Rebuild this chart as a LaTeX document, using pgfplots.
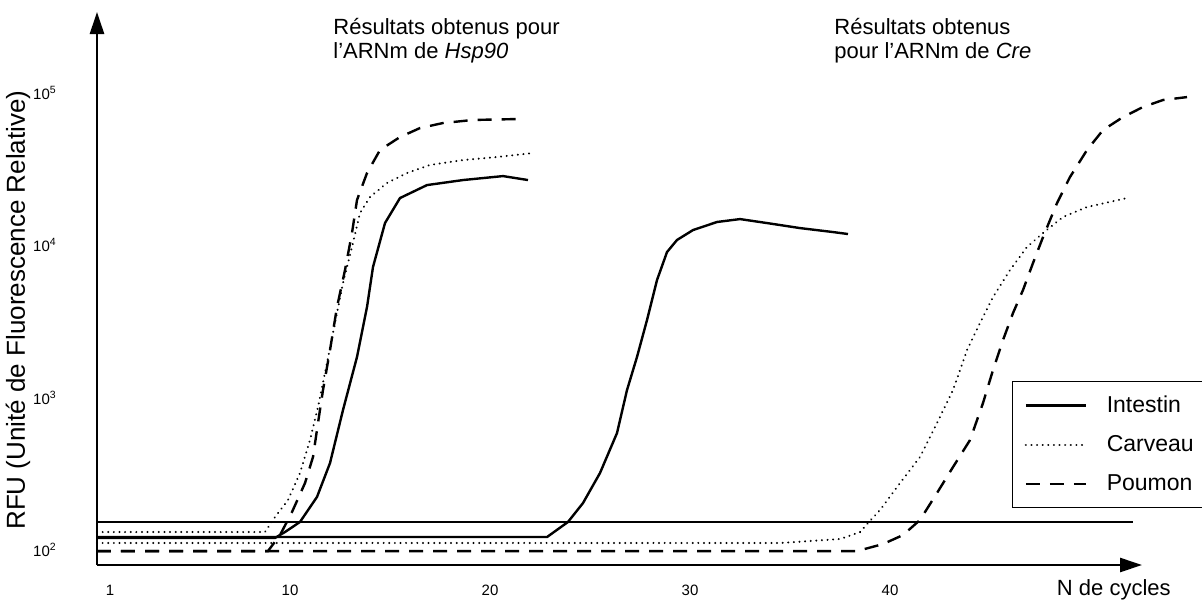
\documentclass[border=0pt]{standalone}
\usepackage{fontspec}
\setmainfont{Liberation Sans}
\usepackage{pgfplots}
\pgfplotsset{compat=1.18}
\usetikzlibrary{arrows.meta}

\begin{document}
\begin{tikzpicture}
\begin{axis}[
  scale only axis, width=522.5pt, height=276.5pt,
  xmin=0.35, xmax=52.6, ymin=1.9016, ymax=5.528,
  axis lines=left,
  axis line style={line width=1.3pt, -{Triangle[length=11pt,width=7pt]}},
  clip=false,
  xtick={1,10,20,30,40}, ytick={2,3,4,5},
  yticklabels={10\textsuperscript{2},10\textsuperscript{3},10\textsuperscript{4},10\textsuperscript{5}},
  major tick length=0pt,
  /pgf/number format/assume math mode=true,
  tick label style={font=\fontsize{7.5}{8}\selectfont},
  xticklabel style={anchor=center, yshift=-12.5pt},
  yticklabel style={anchor=center, xshift=-26pt},
  xlabel={N de cycles},
  ylabel={RFU (Unité de Fluorescence Relative)},
  xlabel style={at={(axis description cs:0.973,-0.045)}, anchor=center, font=\fontsize{11}{12}\selectfont},
  ylabel style={at={(axis description cs:-0.0756,0.461)}, anchor=center, font=\fontsize{13}{14}\selectfont},
  legend style={at={(axis cs:46.1,3.108)}, anchor=north west, draw=black, line width=0.6pt,
    font=\fontsize{11.5}{12}\selectfont, row sep=6pt, column sep=8pt, inner xsep=6pt, inner ysep=5pt,
    cells={anchor=west}},
  legend image code/.code={\draw[#1] (0cm,0cm) -- (1.05cm,0cm);},
  sol/.style={black, line width=1.2pt},
  dot/.style={black, line width=1.1pt, line cap=round, dash pattern=on 0.01pt off 2.8pt},
  dsh/.style={black, line width=1.2pt, dash pattern=on 7pt off 5pt},
]
% Hsp90 - Intestin
\addplot[sol] coordinates {
(0.35,2.079) (9.25,2.079) (9.75,2.118) (10.5,2.184) (11.35,2.348) (12.0,2.570)
(12.65,2.918) (13.35,3.266) (13.85,3.593) (14.15,3.856) (14.75,4.144) (15.5,4.308)
(16.85,4.393) (18.65,4.426) (20.65,4.452) (21.9,4.426)};
\addlegendentry{Intestin\hspace{14pt}}
% Hsp90 - Carveau
\addplot[dot] coordinates {
(0.35,2.118) (8.75,2.118) (9.25,2.216) (9.9,2.328) (10.5,2.505) (11.0,2.721)
(11.4,2.938) (11.85,3.226) (12.25,3.489) (12.65,3.751) (13.1,3.987) (13.5,4.210)
(14.0,4.315) (14.85,4.407) (15.85,4.472) (17.0,4.525) (18.65,4.557) (20.35,4.577) (22.15,4.603)};
\addlegendentry{Carveau}
% Hsp90 - Poumon
\addplot[dsh] coordinates {
(0.35,1.993) (8.9,1.993) (9.5,2.098) (10.1,2.249) (10.75,2.439) (11.15,2.610)
(11.4,2.833) (11.65,3.049) (12.0,3.311) (12.35,3.593) (12.75,3.836) (13.1,4.079)
(13.35,4.295) (13.85,4.472) (14.5,4.623) (15.5,4.708) (16.5,4.767) (17.65,4.800)
(19.15,4.820) (21.35,4.826)};
\addlegendentry{Poumon}
% Cre - Intestin
\addplot[sol, forget plot] coordinates {
(0.35,2.085) (22.85,2.085) (23.9,2.184) (24.65,2.308) (25.5,2.505) (26.35,2.767)
(26.85,3.049) (27.35,3.266) (27.85,3.508) (28.35,3.770) (28.85,3.954) (29.35,4.033)
(30.15,4.098) (31.35,4.151) (32.5,4.170) (33.85,4.144) (35.5,4.111) (37.15,4.085) (37.9,4.072)};
% Cre - Carveau
\addplot[dot, forget plot] coordinates {
(0.35,2.046) (34.5,2.046) (37.5,2.072) (38.5,2.118) (38.9,2.177) (39.5,2.262)
(40.5,2.439) (41.5,2.610) (42.35,2.833) (43.15,3.049) (43.85,3.311) (44.5,3.489)
(45.15,3.659) (46.0,3.836) (46.85,3.987) (47.65,4.079) (48.65,4.184) (49.85,4.249) (51.85,4.308)};
% Cre - Poumon
\addplot[dsh, forget plot] coordinates {
(0.35,1.993) (38.35,1.993) (39.65,2.039) (40.65,2.098) (41.5,2.197) (42.35,2.374)
(43.15,2.544) (44.0,2.721) (44.65,2.964) (45.15,3.180) (45.65,3.377) (46.15,3.554)
(46.65,3.705) (47.15,3.882) (47.65,4.052) (48.35,4.275) (49.0,4.446) (49.85,4.623)
(50.65,4.754) (51.65,4.839) (52.65,4.905) (53.65,4.951) (54.85,4.970)};
% seuil
\addplot[black, line width=0.7pt, forget plot] coordinates {(0.35,2.1836) (52.15,2.1836)};

\node[anchor=north west, inner sep=0pt, align=left, font=\fontsize{11}{12}\selectfont]
  at (axis cs:12.15,5.489) {Résultats obtenus pour\\l'ARNm de \textit{Hsp90}};
\node[anchor=north west, inner sep=0pt, align=left, font=\fontsize{11}{12}\selectfont]
  at (axis cs:37.2,5.489) {Résultats obtenus\\pour l'ARNm de \textit{Cre}};
\end{axis}
\pgfresetboundingbox
\useasboundingbox (-48.5pt,-21pt) rectangle (552.5pt,282.5pt);
\end{tikzpicture}
\end{document}
